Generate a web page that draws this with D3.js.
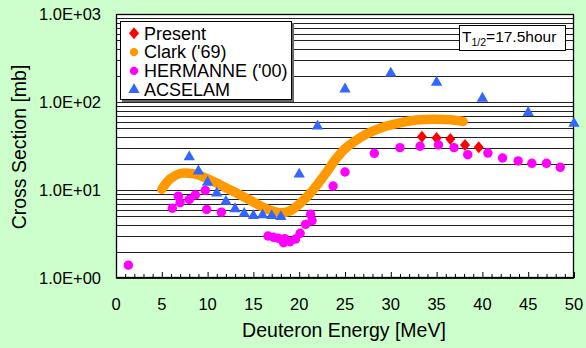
<!DOCTYPE html>
<html>
<head>
<meta charset="utf-8">
<script src="https://cdn.jsdelivr.net/npm/d3@7"></script>
<style>
  body { margin: 0; background: #ccffcc; }
  svg { display: block; font-family: "Liberation Sans", Arial, sans-serif; }
</style>
</head>
<body>
<svg id="chart" width="586" height="348"></svg>
<script>
// series: [energy MeV, cross section mb]
var present = [[33.4, 40.3], [35.0, 39.0], [36.5, 38.0], [38.1, 32.5], [39.6, 30.6]];

var clark = [[5.0, 10.2], [5.9, 13.4], [7.0, 15.4], [8.0, 15.5], [9.0, 14.8], [10.0, 13.4],
  [11.0, 12.0], [12.0, 10.6], [13.0, 9.4], [14.0, 8.3], [15.0, 7.3], [16.0, 6.4],
  [17.0, 5.8], [18.0, 5.5], [19.0, 5.8], [20.0, 6.9], [21.0, 8.7], [22.0, 11.6],
  [23.0, 16.0], [24.0, 22.5], [25.0, 29.5], [26.0, 35.5], [27.4, 43.5], [29.2, 52],
  [31.0, 58], [32.8, 62.5], [34.7, 63.8], [36.5, 62.7], [37.9, 60.0]];

var hermanne = [[1.35, 1.4], [6.15, 6.2], [6.8, 8.5], [7.0, 7.2], [8.0, 7.8], [8.66, 8.8],
  [9.75, 9.9], [9.9, 6.0], [11.5, 5.6], [16.6, 3.0], [17.2, 2.9], [17.7, 2.83],
  [18.3, 2.52], [18.4, 2.8], [19.0, 2.58], [19.6, 2.77], [20.1, 3.22], [20.7, 4.07],
  [21.25, 5.3], [21.4, 4.48], [23.7, 11.1], [25.0, 16.0], [28.2, 26.1], [31.0, 30.3],
  [33.2, 31.4], [35.2, 32.5], [36.9, 30.3], [38.4, 25.2], [40.6, 26.3], [42.2, 23.1],
  [43.9, 21.4], [45.4, 20.1], [47.0, 20.1], [48.5, 18.1]];

var acselam = [[8, 23.7], [9, 16.4], [10, 12.2], [11, 9.2], [12, 7.4], [13, 6.1], [14, 5.4],
  [15, 5.1], [16, 5.2], [17, 5.1], [18, 4.97], [20, 15.1], [22, 53], [25, 140],
  [30, 212], [35, 167], [40, 110], [45, 75.6], [50, 57]];

var xTicks = [0, 5, 10, 15, 20, 25, 30, 35, 40, 45, 50];
var yTicks = [1, 10, 100, 1000];
var yTickLabels = ["1.0E+00", "1.0E+01", "1.0E+02", "1.0E+03"];
var legendNames = ["Present", "Clark ('69)", "HERMANNE ('00)", "ACSELAM"];

var svg = d3.select("#chart");
var pLeft = 116, pRight = 574, pTop = 14, pBottom = 278;

var x = d3.scaleLinear().domain([0, 50]).range([pLeft, pRight]);
var y = d3.scaleLog().domain([1, 1000]).range([pBottom, pTop]);

// plot area
svg.append("rect")
   .attr("x", pLeft).attr("y", pTop)
   .attr("width", pRight - pLeft).attr("height", pBottom - pTop)
   .attr("fill", "#fff");

// horizontal grid at every log step
var gridVals = [];
[1, 10, 100].forEach(function(d){
  for (var k = 1; k < 10; k++) gridVals.push(d * k);
});
svg.append("g").selectAll("line")
   .data(gridVals)
   .enter().append("line")
   .attr("x1", pLeft).attr("x2", pRight)
   .attr("y1", d => Math.round(y(d)) + 0.5)
   .attr("y2", d => Math.round(y(d)) + 0.5)
   .attr("stroke", "#222")
   .attr("stroke-width", 1);

// x axis minor ticks, pointing up
var xAxis = d3.axisTop(x)
   .tickValues(d3.range(0, 51, 1))
   .tickSize(4)
   .tickFormat("");
var gx = svg.append("g").attr("transform", "translate(0," + pBottom + ")").call(xAxis);
gx.select(".domain").remove();
gx.selectAll(".tick line")
   .attr("y2", d => d % 5 === 0 ? -6 : -4)
   .attr("stroke", "#000");

// x tick labels
svg.append("g").selectAll("text")
   .data(xTicks)
   .enter().append("text")
   .attr("x", d => x(d))
   .attr("y", 310)
   .attr("text-anchor", "middle")
   .style("font-size", "16.5px")
   .text(d => d);

// y tick labels
svg.append("g").selectAll("text")
   .data(yTicks)
   .enter().append("text")
   .attr("x", 101)
   .attr("y", d => y(d) + 6)
   .attr("text-anchor", "end")
   .style("font-size", "16.5px")
   .text((d, i) => yTickLabels[i]);

// border
svg.append("rect")
   .attr("x", pLeft + 0.5).attr("y", pTop + 0.5)
   .attr("width", pRight - pLeft - 1).attr("height", pBottom - pTop - 1)
   .attr("fill", "none").attr("stroke", "#000").attr("stroke-width", 1.3);

// axis titles
svg.append("text")
   .attr("x", 344).attr("y", 337)
   .attr("text-anchor", "middle")
   .style("font-size", "19.5px")
   .text("Deuteron Energy [MeV]");

svg.append("text")
   .attr("transform", "translate(26,147) rotate(-90)")
   .attr("text-anchor", "middle")
   .style("font-size", "19.5px")
   .text("Cross Section [mb]");

// marker shapes
var diamondType = {
  draw: function(ctx, size) {
    var w = 5, h = 6;
    ctx.moveTo(0, -h); ctx.lineTo(w, 0); ctx.lineTo(0, h); ctx.lineTo(-w, 0); ctx.closePath();
  }
};
var sym = {
  present: d3.symbol().type(diamondType)(),
  hermanne: d3.symbol().type(d3.symbolCircle).size(70)(),
  acselam: d3.symbol().type(d3.symbolTriangle).size(56)()
};

// Clark curve (dense dots in the original, drawn as a thick band)
var line = d3.line()
   .x(d => x(d[0]))
   .y(d => y(d[1]))
   .curve(d3.curveCatmullRom);

var plot = svg.append("g");

plot.selectAll(".present")
   .data(present)
   .enter().append("path")
   .attr("class", "present")
   .attr("d", sym.present)
   .attr("transform", d => "translate(" + x(d[0]) + "," + y(d[1]) + ")")
   .attr("fill", "#ff0000");

plot.append("path")
   .datum(clark)
   .attr("d", line)
   .attr("fill", "none")
   .attr("stroke", "#ff9900")
   .attr("stroke-width", 9.5)
   .attr("stroke-linecap", "round")
   .attr("stroke-linejoin", "round");

plot.selectAll(".hermanne")
   .data(hermanne)
   .enter().append("path")
   .attr("class", "hermanne")
   .attr("d", sym.hermanne)
   .attr("transform", d => "translate(" + x(d[0]) + "," + y(d[1]) + ")")
   .attr("fill", "#ff00ff");

plot.selectAll(".acselam")
   .data(acselam)
   .enter().append("path")
   .attr("class", "acselam")
   .attr("d", sym.acselam)
   .attr("transform", d => "translate(" + x(d[0]) + "," + y(d[1]) + ")")
   .attr("fill", "#3366ff");

// legend
var legend = svg.append("g");
legend.append("rect")
   .attr("x", 122).attr("y", 23).attr("width", 172).attr("height", 79)
   .attr("fill", "#666");
legend.append("rect")
   .attr("x", 120.5).attr("y", 21.5).attr("width", 171).attr("height", 78)
   .attr("fill", "#fff").attr("stroke", "#000");

var legendMarks = [
  { d: sym.present, fill: "#ff0000" },
  { d: d3.symbol().type(d3.symbolCircle).size(55)(), fill: "#ff9900" },
  { d: d3.symbol().type(d3.symbolCircle).size(55)(), fill: "#ff00ff" },
  { d: sym.acselam, fill: "#3366ff" }
];
legend.selectAll(".lm")
   .data(legendMarks)
   .enter().append("path")
   .attr("class", "lm")
   .attr("d", d => d.d)
   .attr("transform", (d, i) => "translate(134," + (33.3 + i * 18.8) + ")")
   .attr("fill", d => d.fill);

legend.selectAll(".lt")
   .data(legendNames)
   .enter().append("text")
   .attr("class", "lt")
   .attr("x", 144)
   .attr("y", (d, i) => 39.5 + i * 18.8)
   .style("font-size", "18px")
   .text(d => d);

// half-life box
var tbox = svg.append("g");
tbox.append("rect")
   .attr("x", 459.5).attr("y", 25.5).attr("width", 106).attr("height", 25)
   .attr("fill", "#fff").attr("stroke", "#000");
var t = tbox.append("text")
   .attr("x", 462).attr("y", 42)
   .style("font-size", "15.5px");
t.append("tspan").text("T");
t.append("tspan").attr("dy", 4).style("font-size", "10.5px").text("1/2");
t.append("tspan").attr("dy", -4).text("=17.5hour");
</script>
</body>
</html>
